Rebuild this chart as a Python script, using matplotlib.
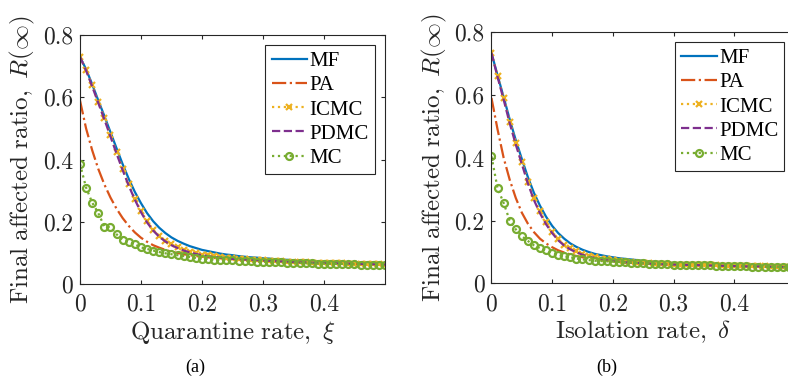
import numpy as np
import matplotlib
matplotlib.use("Agg")
import matplotlib.pyplot as plt

plt.rcParams['mathtext.fontset'] = 'cm'
plt.rcParams['axes.formatter.use_mathtext'] = True

# rate values (x axis), step 0.01
rate = np.linspace(0, 0.5, 51)

# ---- panel (a): quarantine rate ----
mf_a = [0.730, 0.690, 0.642, 0.590, 0.540, 0.488, 0.436, 0.385, 0.338, 0.296,
        0.260, 0.228, 0.202, 0.181, 0.164, 0.150, 0.139, 0.130, 0.122, 0.116,
        0.110, 0.106, 0.102, 0.098, 0.095, 0.093, 0.090, 0.088, 0.086, 0.085,
        0.083, 0.082, 0.080, 0.079, 0.078, 0.077, 0.076, 0.075, 0.074, 0.073,
        0.072, 0.071, 0.070, 0.069, 0.068, 0.067, 0.066, 0.066, 0.065, 0.064,
        0.063]
pa_a = [0.590, 0.500, 0.430, 0.370, 0.320, 0.278, 0.242, 0.212, 0.187, 0.166,
        0.149, 0.136, 0.125, 0.117, 0.110, 0.104, 0.100, 0.096, 0.093, 0.090,
        0.088, 0.086, 0.084, 0.083, 0.081, 0.080, 0.079, 0.078, 0.077, 0.076,
        0.075, 0.074, 0.073, 0.072, 0.072, 0.071, 0.070, 0.070, 0.069, 0.068,
        0.068, 0.067, 0.067, 0.066, 0.066, 0.065, 0.065, 0.064, 0.064, 0.063,
        0.063]
icmc_a = [0.730, 0.688, 0.638, 0.585, 0.533, 0.478, 0.423, 0.370, 0.320, 0.275,
          0.235, 0.202, 0.175, 0.155, 0.140, 0.128, 0.118, 0.110, 0.104, 0.099,
          0.095, 0.092, 0.089, 0.087, 0.085, 0.083, 0.081, 0.080, 0.079, 0.077,
          0.076, 0.075, 0.074, 0.073, 0.072, 0.072, 0.071, 0.070, 0.069, 0.069,
          0.068, 0.068, 0.067, 0.067, 0.066, 0.066, 0.065, 0.065, 0.064, 0.064,
          0.063]
pdmc_a = [0.730, 0.686, 0.635, 0.582, 0.529, 0.474, 0.419, 0.366, 0.316, 0.271,
          0.231, 0.198, 0.172, 0.152, 0.137, 0.125, 0.116, 0.108, 0.102, 0.097,
          0.093, 0.090, 0.087, 0.085, 0.083, 0.081, 0.080, 0.079, 0.078, 0.077,
          0.076, 0.075, 0.074, 0.073, 0.072, 0.071, 0.070, 0.070, 0.069, 0.068,
          0.068, 0.067, 0.067, 0.066, 0.066, 0.065, 0.065, 0.064, 0.064, 0.063,
          0.063]
mc_a = [0.386, 0.310, 0.262, 0.228, 0.185, 0.183, 0.160, 0.142, 0.135, 0.128,
        0.118, 0.113, 0.108, 0.103, 0.099, 0.096, 0.093, 0.090, 0.087, 0.084,
        0.082, 0.081, 0.079, 0.078, 0.077, 0.076, 0.075, 0.074, 0.073, 0.072,
        0.072, 0.071, 0.070, 0.070, 0.069, 0.069, 0.068, 0.067, 0.067, 0.066,
        0.066, 0.066, 0.065, 0.065, 0.064, 0.064, 0.063, 0.063, 0.062, 0.062,
        0.061]

# ---- panel (b): isolation rate ----
mf_b = [0.733, 0.662, 0.593, 0.522, 0.456, 0.396, 0.338, 0.288, 0.247, 0.212,
        0.183, 0.160, 0.142, 0.127, 0.116, 0.107, 0.100, 0.094, 0.090, 0.086,
        0.083, 0.080, 0.078, 0.076, 0.074, 0.072, 0.070, 0.069, 0.068, 0.066,
        0.065, 0.064, 0.063, 0.062, 0.062, 0.061, 0.060, 0.059, 0.059, 0.058,
        0.057, 0.057, 0.056, 0.056, 0.055, 0.055, 0.054, 0.054, 0.053, 0.053,
        0.052]
pa_b = [0.590, 0.490, 0.400, 0.330, 0.272, 0.225, 0.190, 0.163, 0.142, 0.127,
        0.115, 0.105, 0.098, 0.092, 0.087, 0.083, 0.080, 0.077, 0.075, 0.073,
        0.071, 0.069, 0.068, 0.067, 0.066, 0.065, 0.064, 0.063, 0.062, 0.061,
        0.060, 0.060, 0.059, 0.058, 0.058, 0.057, 0.057, 0.056, 0.056, 0.055,
        0.055, 0.055, 0.054, 0.054, 0.054, 0.053, 0.053, 0.053, 0.052, 0.052,
        0.052]
icmc_b = [0.733, 0.660, 0.590, 0.515, 0.448, 0.386, 0.324, 0.271, 0.229, 0.194,
          0.165, 0.141, 0.123, 0.112, 0.102, 0.094, 0.088, 0.083, 0.079, 0.076,
          0.073, 0.071, 0.069, 0.067, 0.066, 0.065, 0.064, 0.063, 0.062, 0.061,
          0.060, 0.060, 0.059, 0.059, 0.058, 0.058, 0.057, 0.057, 0.056, 0.056,
          0.055, 0.055, 0.055, 0.054, 0.054, 0.054, 0.053, 0.053, 0.053, 0.052,
          0.052]
pdmc_b = [0.733, 0.657, 0.585, 0.510, 0.442, 0.380, 0.318, 0.265, 0.223, 0.188,
          0.160, 0.137, 0.120, 0.108, 0.099, 0.091, 0.085, 0.081, 0.077, 0.074,
          0.071, 0.069, 0.067, 0.066, 0.065, 0.064, 0.063, 0.062, 0.061, 0.060,
          0.060, 0.059, 0.059, 0.058, 0.058, 0.057, 0.057, 0.056, 0.056, 0.055,
          0.055, 0.055, 0.054, 0.054, 0.054, 0.053, 0.053, 0.053, 0.052, 0.052,
          0.052]
mc_b = [0.404, 0.303, 0.256, 0.200, 0.172, 0.150, 0.135, 0.121, 0.112, 0.105,
        0.097, 0.091, 0.086, 0.083, 0.079, 0.076, 0.074, 0.072, 0.071, 0.070,
        0.069, 0.068, 0.067, 0.066, 0.065, 0.064, 0.063, 0.062, 0.062, 0.061,
        0.060, 0.060, 0.059, 0.058, 0.058, 0.057, 0.057, 0.056, 0.056, 0.055,
        0.055, 0.054, 0.054, 0.053, 0.053, 0.053, 0.052, 0.052, 0.051, 0.051,
        0.050]

x_ticks = [0, 0.1, 0.2, 0.3, 0.4]
x_ticklabels = ['0', '0.1', '0.2', '0.3', '0.4']
y_ticks = [0, 0.2, 0.4, 0.6, 0.8]
y_ticklabels = ['0', '0.2', '0.4', '0.6', '0.8']

fig = plt.figure(figsize=(7.88, 3.85), dpi=100)
ax_a = fig.add_axes([0.1015, 0.262, 0.387, 0.647])
ax_b = fig.add_axes([0.6237, 0.264, 0.385, 0.653])


def draw_panel(ax, mf, pa, icmc, pdmc, mc, xlabel, caption, cap_x):
    ax.plot(rate, mf, color='#0072BD', lw=1.6, ls='-', label='MF')
    ax.plot(rate, pa, color='#D95319', lw=1.6, ls='-.', label='PA')
    ax.plot(rate, icmc, color='#EDB120', lw=1.6, ls=':', marker='x',
            ms=4, mew=1.6, label='ICMC')
    ax.plot(rate, pdmc, color='#7E2F8E', lw=1.6, ls='--', label='PDMC')
    ax.plot(rate, mc, color='#77AC30', lw=1.6, ls=':', marker='o',
            ms=5, mew=1.6, mfc='none', label='MC')

    ax.set_xlim(0, 0.5)
    ax.set_ylim(0, 0.8)
    ax.set_xticks(x_ticks)
    ax.set_xticklabels(x_ticklabels)
    ax.set_yticks(y_ticks)
    ax.set_yticklabels(y_ticklabels)
    ax.tick_params(direction='in', top=True, right=True, length=3,
                   labelsize=17, colors='#262626')
    ax.tick_params(axis='x', pad=7)
    ax.tick_params(axis='y', pad=5)
    for tl in ax.get_xticklabels() + ax.get_yticklabels():
        tl.set_family('cmr10')
        tl.set_color('#262626')
    for s in ax.spines.values():
        s.set_color('#262626')
        s.set_linewidth(0.8)

    ax.set_ylabel(r'$\mathrm{Final\ affected\ ratio,}\ R(\infty)$',
                  fontsize=18, color='#262626', labelpad=4)
    ax.set_xlabel(xlabel, fontsize=18, color='#262626', labelpad=2)

    leg = ax.legend(loc='upper right', handlelength=1.7,
                    handletextpad=0.1, borderpad=0.3, labelspacing=0.22,
                    fancybox=False, framealpha=1, borderaxespad=0.5,
                    prop={'family': 'Liberation Serif', 'size': 15})
    leg.get_frame().set_edgecolor('#262626')
    leg.get_frame().set_linewidth(0.8)

    fig.text(cap_x, 0.047, caption, ha='center', va='center',
             fontsize=13, family='Liberation Serif')


draw_panel(ax_a, mf_a, pa_a, icmc_a, pdmc_a, mc_a,
           r'$\mathrm{Quarantine\ rate,}\ \xi$', '(a)', 0.2475)
draw_panel(ax_b, mf_b, pa_b, icmc_b, pdmc_b, mc_b,
           r'$\mathrm{Isolation\ rate,}\ \delta$', '(b)', 0.770)

fig.savefig('out.png', dpi=100)
